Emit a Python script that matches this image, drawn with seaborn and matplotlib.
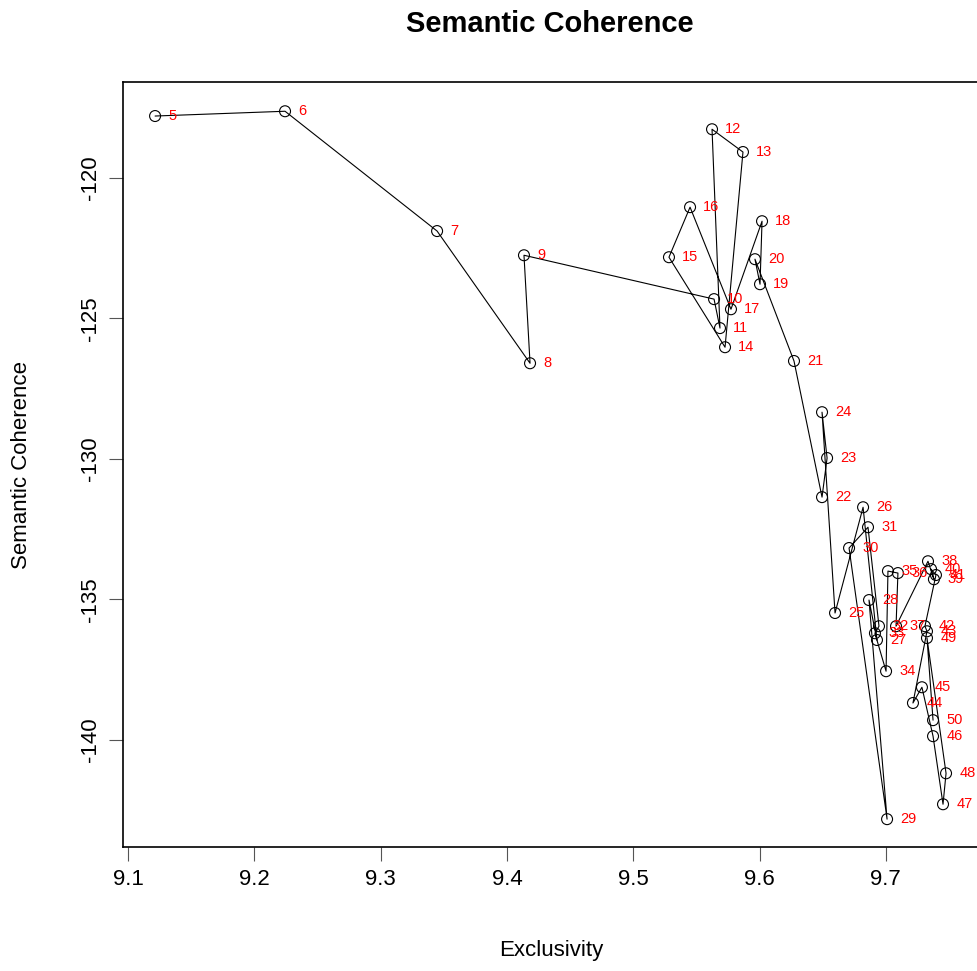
import matplotlib
matplotlib.use("Agg")
import matplotlib.pyplot as plt
import seaborn as sns
import pandas as pd

# Number of topics evaluated
topics_k = list(range(5, 51))

# Exclusivity per number of topics
exclusivity = [
    9.1214, 9.2243, 9.3447, 9.4183, 9.4135, 9.5640, 9.5687, 9.5624, 9.5869, 9.5727,
    9.5283, 9.5450, 9.5774, 9.6020, 9.6004, 9.5964, 9.6273, 9.6495, 9.6535, 9.6495,
    9.6598, 9.6820, 9.6930, 9.6867, 9.7010, 9.6709, 9.6859, 9.6946, 9.6914, 9.7002,
    9.7017, 9.7096, 9.7081, 9.7334, 9.7381, 9.7358, 9.7397, 9.7310, 9.7326, 9.7215,
    9.7286, 9.7374, 9.7453, 9.7477, 9.7326, 9.7374,
]

# Semantic coherence per number of topics
sem_coherence = [
    -117.81, -117.64, -121.90, -126.60, -122.76, -124.32, -125.35, -118.28, -119.09, -126.03,
    -122.83, -121.05, -124.68, -121.55, -123.79, -122.90, -126.52, -131.36, -129.97, -128.34,
    -135.48, -131.72, -136.44, -135.02, -142.81, -133.17, -132.43, -135.95, -136.20, -137.55,
    -133.99, -134.06, -135.95, -133.64, -134.28, -133.92, -134.13, -135.95, -136.13, -138.68,
    -138.12, -139.86, -142.28, -141.18, -136.37, -139.29,
]

x_ticks = [9.1, 9.2, 9.3, 9.4, 9.5, 9.6, 9.7]
y_ticks = [-140, -135, -130, -125, -120]

df = pd.DataFrame({"K": topics_k, "Exclusivity": exclusivity,
                   "SemCoh": sem_coherence})

sns.set_style("white")
plt.rcParams["font.family"] = ["Liberation Sans", "DejaVu Sans"]
plt.rcParams["text.color"] = "black"
plt.rcParams["xtick.labelcolor"] = "black"
plt.rcParams["ytick.labelcolor"] = "black"

W, H = 977, 971
fig = plt.figure(figsize=(W / 100, H / 100), dpi=100)
ax = fig.add_axes([123 / W, (H - 847) / H, (978 - 123) / W, (847 - 82) / H])

sns.lineplot(data=df, x="Exclusivity", y="SemCoh", sort=False, estimator=None,
             color="black", linewidth=0.8, ax=ax, zorder=2)
sns.scatterplot(data=df, x="Exclusivity", y="SemCoh", marker="o", s=62,
                facecolor="none", edgecolor="black", linewidth=0.8, ax=ax,
                zorder=3)

for k, xv, yv in zip(df["K"], df["Exclusivity"], df["SemCoh"]):
    ax.annotate(str(k), (xv, yv), xytext=(9.5, 0), textcoords="offset points",
                ha="left", va="center", color="red", fontsize=10.5, zorder=4)

ax.set_xlim(9.096, 9.773)
ax.set_ylim(-143.80, -116.60)
ax.set_xticks(x_ticks)
ax.set_xticklabels([f"{t:g}" for t in x_ticks])
ax.set_yticks(y_ticks)
ax.set_yticklabels([str(t) for t in y_ticks], rotation=90, va="center")
ax.tick_params(axis="both", direction="out", length=10, width=0.8,
               color="#555555", labelsize=16, pad=6, bottom=True, left=True)

for side in ["top", "right", "bottom", "left"]:
    ax.spines[side].set_visible(True)
    ax.spines[side].set_color("black")
    ax.spines[side].set_linewidth(1.2)

ax.set_xlabel("")
ax.set_ylabel("")
fig.text(551 / W, 1 - 950 / H, "Exclusivity", ha="center", va="center",
         fontsize=16)
fig.text(22 / W, 1 - 465 / H, "Semantic Coherence", ha="center",
         va="center", rotation=90, fontsize=16)
fig.text(550 / W, 1 - 24 / H, "Semantic Coherence", ha="center",
         va="center", fontsize=21, fontweight="bold")

fig.savefig("out.png", dpi=100)
